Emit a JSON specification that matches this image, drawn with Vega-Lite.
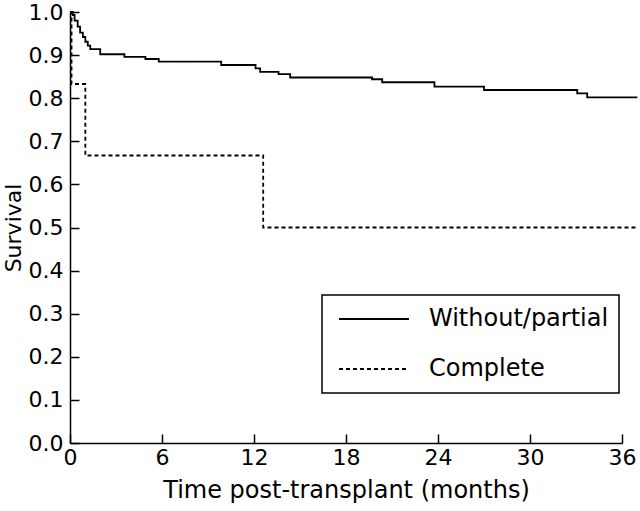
{
  "$schema": "https://vega.github.io/schema/vega-lite/v6.json",
  "autosize": {"type": "none"},
  "padding": {"left": 70, "top": 12, "right": 18, "bottom": 68},
  "width": 552,
  "height": 431,
  "background": "white",
  "config": {
    "view": {"stroke": null},
    "font": "DejaVu Sans",
    "axis": {
      "domainColor": "black",
      "domainWidth": 1.5,
      "tickColor": "black",
      "tickWidth": 1.5,
      "tickSize": -9,
      "grid": false,
      "labelFont": "DejaVu Sans",
      "labelFontSize": 22,
      "labelColor": "black",
      "titleFont": "DejaVu Sans",
      "titleFontSize": 24,
      "titleFontWeight": "normal",
      "titleColor": "black"
    }
  },
  "data": {
    "values": [
      {"time": 0, "survival": 1.0, "group": "Without/partial"},
      {"time": 0.18, "survival": 0.993, "group": "Without/partial"},
      {"time": 0.3, "survival": 0.98, "group": "Without/partial"},
      {"time": 0.5, "survival": 0.966, "group": "Without/partial"},
      {"time": 0.66, "survival": 0.952, "group": "Without/partial"},
      {"time": 0.84, "survival": 0.942, "group": "Without/partial"},
      {"time": 1.0, "survival": 0.931, "group": "Without/partial"},
      {"time": 1.16, "survival": 0.922, "group": "Without/partial"},
      {"time": 1.32, "survival": 0.914, "group": "Without/partial"},
      {"time": 1.97, "survival": 0.902, "group": "Without/partial"},
      {"time": 3.55, "survival": 0.896, "group": "Without/partial"},
      {"time": 4.92, "survival": 0.891, "group": "Without/partial"},
      {"time": 5.79, "survival": 0.885, "group": "Without/partial"},
      {"time": 9.86, "survival": 0.877, "group": "Without/partial"},
      {"time": 12.1, "survival": 0.869, "group": "Without/partial"},
      {"time": 12.4, "survival": 0.861, "group": "Without/partial"},
      {"time": 13.6, "survival": 0.856, "group": "Without/partial"},
      {"time": 14.36, "survival": 0.848, "group": "Without/partial"},
      {"time": 19.7, "survival": 0.844, "group": "Without/partial"},
      {"time": 20.36, "survival": 0.837, "group": "Without/partial"},
      {"time": 23.77, "survival": 0.827, "group": "Without/partial"},
      {"time": 27.0, "survival": 0.819, "group": "Without/partial"},
      {"time": 33.08, "survival": 0.811, "group": "Without/partial"},
      {"time": 33.73, "survival": 0.802, "group": "Without/partial"},
      {"time": 37.0, "survival": 0.802, "group": "Without/partial"},
      {"time": 0, "survival": 1.0, "group": "Complete"},
      {"time": 0.1, "survival": 0.833, "group": "Complete"},
      {"time": 1.0, "survival": 0.667, "group": "Complete"},
      {"time": 12.6, "survival": 0.5, "group": "Complete"},
      {"time": 37.0, "survival": 0.5, "group": "Complete"}
    ]
  },
  "mark": {"type": "line", "interpolate": "step-after", "color": "black", "strokeWidth": 1.8, "clip": false},
  "encoding": {
    "x": {
      "field": "time",
      "type": "quantitative",
      "scale": {"domain": [0, 36], "nice": false},
      "axis": {"values": [0, 6, 12, 18, 24, 30, 36], "title": "Time post-transplant (months)", "labelPadding": 13, "titlePadding": 10, "labelFlush": false}
    },
    "y": {
      "field": "survival",
      "type": "quantitative",
      "scale": {"domain": [0, 1], "nice": false},
      "axis": {"values": [0, 0.1, 0.2, 0.3, 0.4, 0.5, 0.6, 0.7, 0.8, 0.9, 1.0], "format": ".1f", "title": "Survival", "titleFontSize": 22, "labelPadding": 16, "titlePadding": 3, "labelFlush": false}
    },
    "strokeDash": {
      "field": "group",
      "type": "nominal",
      "scale": {"domain": ["Without/partial", "Complete"], "range": [[1, 0], [4, 3]]},
      "legend": {
        "title": null,
        "orient": "none",
        "legendX": 252,
        "legendY": 283,
        "strokeColor": "black",
        "fillColor": "white",
        "padding": 10,
        "symbolType": "stroke",
        "symbolSize": 4900,
        "symbolStrokeWidth": 1.8,
        "symbolStrokeColor": "black",
        "symbolOffset": 6,
        "clipHeight": 28,
        "rowPadding": 22,
        "labelFont": "DejaVu Sans",
        "labelFontSize": 24,
        "labelColor": "black",
        "labelOffset": 19,
        "labelLimit": 0,
        "encode": {"legend": {"update": {"strokeWidth": {"value": 1.5}}}}
      }
    }
  }
}
